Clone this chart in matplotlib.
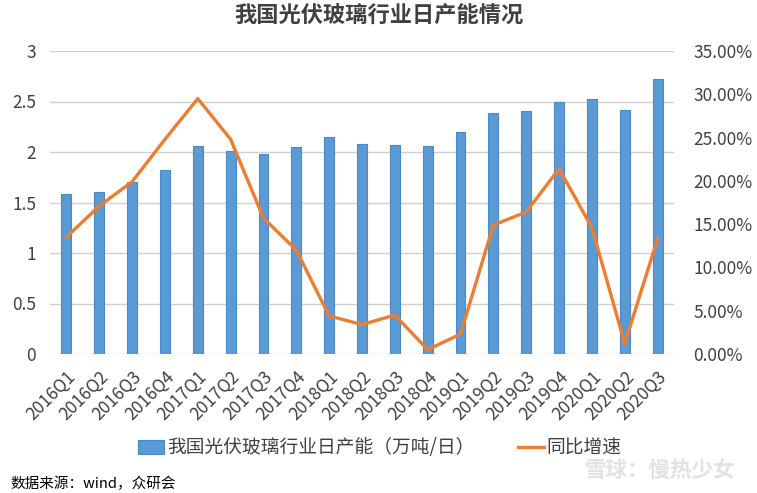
import matplotlib.pyplot as plt
from matplotlib.ticker import FuncFormatter
import numpy as np

plt.rcParams['font.family'] = ['Noto Sans CJK SC', 'DejaVu Sans']

# quarters and values
quarters = ['2016Q1', '2016Q2', '2016Q3', '2016Q4', '2017Q1', '2017Q2', '2017Q3',
            '2017Q4', '2018Q1', '2018Q2', '2018Q3', '2018Q4', '2019Q1', '2019Q2',
            '2019Q3', '2019Q4', '2020Q1', '2020Q2', '2020Q3']
capacity = [1.58, 1.60, 1.70, 1.82, 2.06, 2.01, 1.98, 2.05, 2.15, 2.08, 2.07,
            2.06, 2.20, 2.39, 2.41, 2.50, 2.52, 2.42, 2.72]
growth = [0.135, 0.171, 0.199, 0.248, 0.295, 0.248, 0.157, 0.120, 0.044, 0.034,
          0.045, 0.005, 0.023, 0.149, 0.164, 0.214, 0.146, 0.012, 0.133]

fig = plt.figure(figsize=(7.57, 4.93), dpi=100)
ax = fig.add_axes([50 / 757, 1 - 354 / 493, 624 / 757, 303 / 493])
x = np.arange(len(quarters))

bars = ax.bar(x, capacity, width=0.3, color='#5B9BD5', edgecolor='#4A88C6',
              linewidth=0.8, label='我国光伏玻璃行业日产能（万吨/日）', zorder=2)
ax.set_ylim(0, 3)
ax.set_yticks(np.arange(0, 3.01, 0.5))
ax.yaxis.set_major_formatter(FuncFormatter(lambda v, p: '%g' % v))
ax.set_xlim(-0.5, len(quarters) - 0.5)
ax.set_xticks(x)
ax.set_xticklabels(quarters, rotation=45, ha='right', rotation_mode='anchor',
                   fontsize=11.5, color='#404040')
ax.grid(axis='y', color='#D0D0D0', linewidth=1, zorder=0)
ax.set_axisbelow(True)
for s in ax.spines.values():
    s.set_visible(False)
ax.tick_params(length=0, labelsize=12.5, labelcolor='#404040')
ax.tick_params(axis='y', pad=10)
ax.tick_params(axis='x', pad=10)

ax2 = ax.twinx()
line, = ax2.plot(x, growth, color='#ED7D31', linewidth=2.4, label='同比增速', zorder=3)
ax2.set_ylim(0, 0.35)
ax2.set_yticks(np.arange(0, 0.351, 0.05))
ax2.yaxis.set_major_formatter(FuncFormatter(lambda v, p: '%.2f%%' % (v * 100)))
for s in ax2.spines.values():
    s.set_visible(False)
ax2.tick_params(length=0, labelsize=12.5, labelcolor='#404040', pad=14)

fig.text(0.5, 1 - 16 / 493, '我国光伏玻璃行业日产能情况', ha='center', va='center',
         fontsize=16, fontweight='bold', color='#404040')

fig.legend([bars, line], ['我国光伏玻璃行业日产能（万吨/日）', '同比增速'],
           loc='center', bbox_to_anchor=(380 / 757, 1 - 448 / 493), ncol=2, frameon=False,
           fontsize=13.5, columnspacing=2.3, handlelength=1.4, handletextpad=0.15,
           labelcolor='#404040')

fig.text(10 / 757, 1 - 484 / 493, '数据来源：wind，众研会', ha='left', va='center',
         fontsize=10.5, color='black')
fig.text(735 / 757, 1 - 470 / 493, '雪球：慢热少女', ha='right', va='center',
         fontsize=15.5, color='#E2E2E2', fontweight='bold')

fig.savefig('out.png', dpi=100)
